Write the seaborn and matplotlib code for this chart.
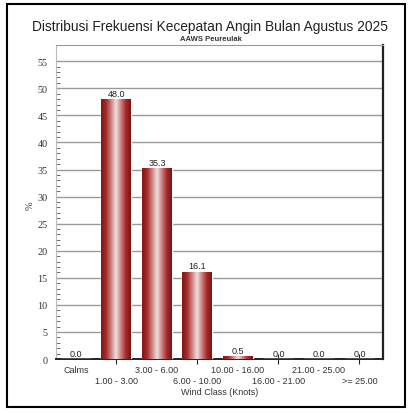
import numpy as np
import pandas as pd
import matplotlib
matplotlib.use("Agg")
import matplotlib.pyplot as plt
import seaborn as sns
from matplotlib.colors import LinearSegmentedColormap
from matplotlib.patches import Rectangle

classes = ["Calms", "1.00 - 3.00", "3.00 - 6.00", "6.00 - 10.00",
           "10.00 - 16.00", "16.00 - 21.00", "21.00 - 25.00", ">= 25.00"]
freq = [0.0, 48.0, 35.3, 16.1, 0.5, 0.0, 0.0, 0.0]

df = pd.DataFrame({"kelas": classes, "persen": freq})

sns.set_style("white")
plt.rcParams['font.family'] = ['Liberation Sans', 'DejaVu Sans']

fig = plt.figure(figsize=(4.12, 4.14), dpi=100)
ax = fig.add_axes([0.136, 0.1304, 0.7936, 0.7585])

sns.barplot(data=df, x="kelas", y="persen", order=classes, color="#9c2020",
            width=0.74, ax=ax, zorder=3)

# cylinder look on the bars
cyl = LinearSegmentedColormap.from_list(
    "cyl", ["#821616", "#a42a2a", "#cf8080", "#eee2e2", "#cf8080", "#a42a2a", "#7a1212"])
grad = np.linspace(0, 1, 128).reshape(1, -1)
for p in ax.patches:
    x0, y0 = p.get_x(), p.get_y()
    w, h = p.get_width(), p.get_height()
    if h <= 0:
        continue
    im = ax.imshow(grad, cmap=cyl, aspect="auto", extent=[x0, x0 + w, y0, y0 + h],
                   zorder=4, interpolation="bicubic")
    im.set_clip_path(p)
ax.bar_label(ax.containers[0], fmt="%.1f", padding=1, fontsize=6.5, color="#222222", zorder=6)

ax.set_xlim(-0.49, 7.58)
ax.set_ylim(0, 58)
ax.set_yticks(np.arange(0, 56, 5))
ax.set_yticks(np.arange(0, 56, 1), minor=True)
for yy in range(5, 56, 5):
    ax.axhline(yy, color="#9a9a9a", lw=1.0, zorder=1)

# two rows of class labels: even classes on top, odd ones below
ax.xaxis.set_major_locator(matplotlib.ticker.FixedLocator(range(0, len(classes), 2)))
ax.xaxis.set_minor_locator(matplotlib.ticker.FixedLocator(range(1, len(classes), 2)))
ax.xaxis.set_major_formatter(matplotlib.ticker.FixedFormatter(classes[0::2]))
ax.xaxis.set_minor_formatter(matplotlib.ticker.FixedFormatter(classes[1::2]))
ax.tick_params(axis="x", which="major", direction="inout", length=7, width=0.8,
               color="#222222", pad=1, labelsize=6.5, labelcolor="#333333")
ax.tick_params(axis="x", which="minor", direction="inout", length=7, width=0.8,
               color="#222222", pad=9, labelsize=6.5, labelcolor="#333333", bottom=True)
ax.tick_params(axis="y", which="major", direction="out", length=5, width=0.8,
               color="#555555", labelsize=7.3, labelcolor="#333333", pad=1)
ax.tick_params(axis="y", which="minor", direction="in", length=3, width=0.6, color="#555555", left=True)
for lab in ax.get_yticklabels():
    lab.set_family(["Liberation Serif", "DejaVu Serif"])

ax.set_xlabel("Wind Class (Knots)", fontsize=6.5, color="#333333", labelpad=1)
ax.set_ylabel("%", fontsize=7.5, color="#333333", rotation=90,
              family=["Liberation Serif", "DejaVu Serif"])
ax.yaxis.set_label_coords(-0.065, 0.49)

ax.spines["left"].set_color("#bbbbbb")
ax.spines["top"].set_color("#999999")
ax.spines["right"].set_color("#222222")
ax.spines["right"].set_linewidth(1.6)
ax.spines["bottom"].set_color("#222222")
ax.spines["bottom"].set_linewidth(1.4)

fig.text(0.510, 0.935, "Distribusi Frekuensi Kecepatan Angin Bulan Agustus 2025",
         ha="center", va="center", fontsize=9.9, color="#222222")
fig.text(0.512, 0.905, "AAWS Peureulak", ha="center", va="center",
         fontsize=5.5, fontweight="bold", color="#333333")

fig.patches.append(Rectangle((7 / 412, 1 - 408 / 414), 398 / 412, 403 / 414,
                             transform=fig.transFigure, fill=False, lw=1.5,
                             edgecolor="black"))

fig.savefig("out.png", dpi=100)
